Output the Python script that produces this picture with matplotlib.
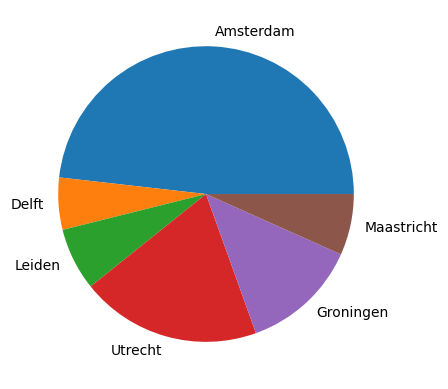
import matplotlib

matplotlib.use("Agg")
import matplotlib.pyplot as plt

# Inwoners per stad (x1000)
cities = ["Amsterdam", "Delft", "Leiden", "Utrecht", "Groningen", "Maastricht"]
population = [872, 103, 124, 357, 232, 121]

fig = plt.figure(figsize=(4.48, 3.89), dpi=100)
ax = fig.add_axes([0.0473, 0.0262, 0.825, 0.950])
ax.pie(population, labels=cities)

plt.savefig("out.png", dpi=100)
plt.close()
